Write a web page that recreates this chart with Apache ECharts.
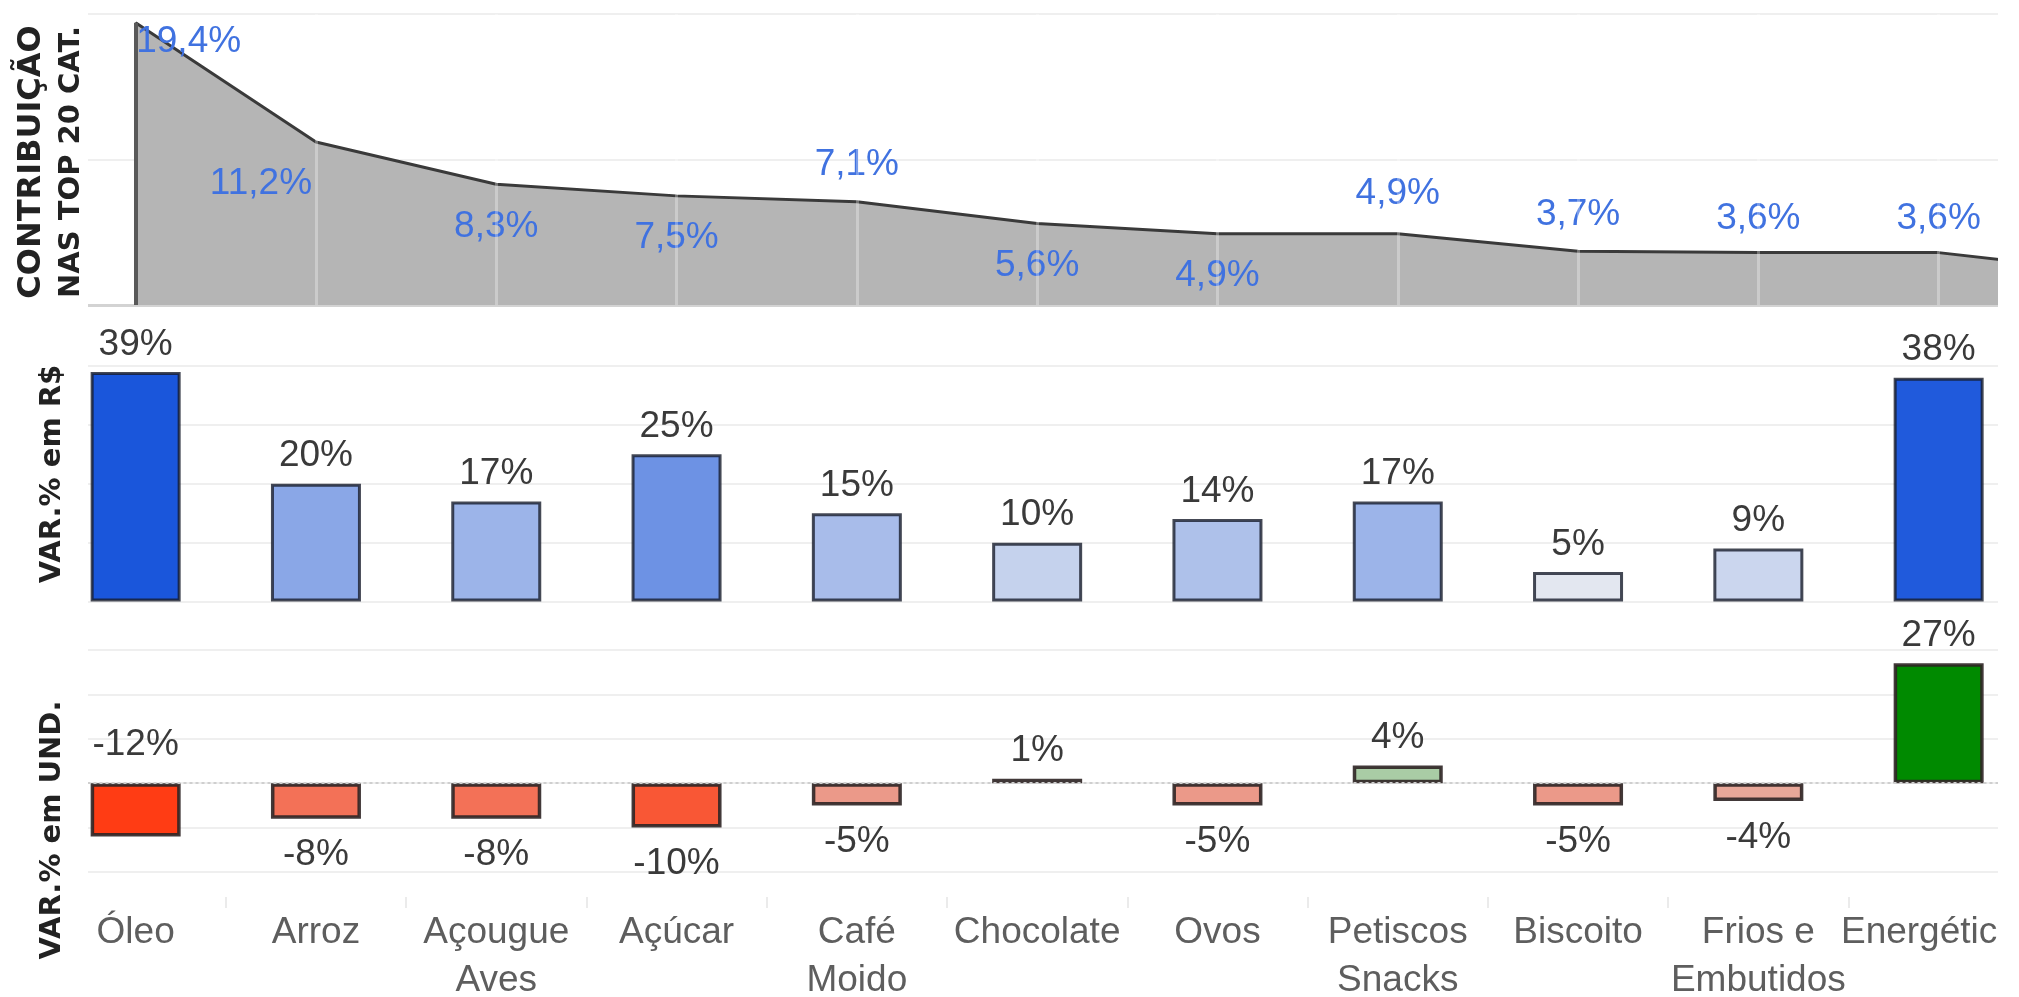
<!DOCTYPE html>
<html><head><meta charset="utf-8">
<script src="https://cdn.jsdelivr.net/npm/echarts@6/dist/echarts.min.js"></script>
<style>html,body{margin:0;padding:0;background:#fff}#c{width:2019px;height:997px}</style>
</head><body><div id="c"></div>
<script>
// ---- data ----
const categories = ['Óleo','Arroz','Açougue\nAves','Açúcar','Café\nMoido','Chocolate','Ovos','Petiscos\nSnacks','Biscoito','Frios e\nEmbutidos','Energéticos',''];
const contribution = [19.4,11.2,8.3,7.5,7.1,5.6,4.9,4.9,3.7,3.6,3.6,2.2];
const varValor = [39,20,17,25,15,10,14,17,5,9,38,null];
const varUnid = [-12,-8,-8,-10,-5,1,-5,4,-5,-4,27,null];
const contribAxis = {min:0, max:20, interval:10};
const valorAxis = {min:0, max:40, interval:10};
const unidAxis = {min:-20, max:30, interval:10};

// ---- styles ----
const areaLabelOffset = [[53,19],[-55,42],[0,43],[0,42],[0,-37],[0,42],[0,42],[0,-40],[0,-36],[0,-34],[0,-34],[0,0]];
const unidLabelSide = ['top','bottom','bottom','bottom','bottom','top','bottom','top','bottom','bottom','top'];
const blueStops = [[5,'#e3e7f0'],[39,'#1a56db']];
const divStops = [[-12,'#ff3c14'],[0,'#dcdcdc'],[4,'#a9cca5'],[27,'#008a00']];
const FONT = '"Liberation Sans", Arial, sans-serif';
const LEFT = 45.5, BAND = 180.3, WIDTH = BAND * categories.length;

function scaleColor(v, stops){
  if (v <= stops[0][0]) return stops[0][1];
  for (let k = 1; k < stops.length; k++){
    if (v <= stops[k][0]){
      const t = (v - stops[k-1][0]) / (stops[k][0] - stops[k-1][0]);
      return echarts.color.lerp(t, [stops[k-1][1], stops[k][1]]);
    }
  }
  return stops[stops.length-1][1];
}
const pct0 = v => v.toFixed(0) + '%';
const pct1 = v => v.toFixed(1).replace('.', ',') + '%';

const grids = [
  {left: LEFT, width: WIDTH, top: 14, height: 291, outerBoundsMode:'none', containLabel:false},
  {left: LEFT, width: WIDTH, top: 366, height: 235.5, outerBoundsMode:'none', containLabel:false},
  {left: LEFT, width: WIDTH, top: 650, height: 222, outerBoundsMode:'none', containLabel:false},
  {left: LEFT, width: WIDTH, top: 897, height: 11, outerBoundsMode:'none', containLabel:false}
];
const splitStyle = {show:true, lineStyle:{color:'#efefef', width:2}};
const xAxes = grids.map((g, i) => ({
  type:'category', gridIndex:i, data:categories, boundaryGap:true,
  axisLine:{show: i===0, lineStyle:{color:'#d3d3d3', width:3}},
  axisTick:{show:false},
  axisLabel: i===3 ? {show:true, interval:0, margin:1, fontFamily:FONT, fontSize:37, lineHeight:48, color:'#5e5e5e'} : {show:false},
  splitLine: i===3 ? {show:true, interval:0, lineStyle:{color:'#ebebeb', width:2}} : {show:false}
}));
const yAxes = [
  Object.assign({type:'value', gridIndex:0, axisLabel:{show:false}, axisLine:{show:false}, axisTick:{show:false}, splitLine:splitStyle}, contribAxis),
  Object.assign({type:'value', gridIndex:1, axisLabel:{show:false}, axisLine:{show:false}, axisTick:{show:false}, splitLine:splitStyle}, valorAxis),
  Object.assign({type:'value', gridIndex:2, axisLabel:{show:false}, axisLine:{show:false}, axisTick:{show:false}, splitLine:splitStyle}, unidAxis),
  {type:'value', gridIndex:3, show:false}
];

const areaData = contribution.map((v, i) => ({
  value: v,
  label: {show: i < categories.length - 1, offset: areaLabelOffset[i]}
}));
const valorData = varValor.map(v => v == null ? null : {value: v});
const unidData = varUnid.map((v, i) => v == null ? null : {
  value: v,
  label: {position: unidLabelSide[i], distance: unidLabelSide[i] === 'top' ? (v < 0 ? 20 : 9) : 18}
});

const option = {
  animation:false,
  backgroundColor:'#ffffff',
  grid: grids,
  xAxis: xAxes,
  yAxis: yAxes,
  series: [
    {
      type:'line', xAxisIndex:0, yAxisIndex:0, data: areaData,
      symbol:'circle', symbolSize:1, itemStyle:{color:'#3a3a3a'},
      lineStyle:{color:'#3a3a3a', width:3},
      areaStyle:{color:'#b5b5b5', opacity:1},
      label:{show:true, position:'inside', formatter: p => pct1(p.value), fontFamily:FONT, fontSize:37, color:'#4072e0'},
      markLine:{
        silent:true, symbol:['none','none'], label:{show:false},
        data:[
          ...[1,2,3,4,5,6,7,8,9,10].map(i => ({xAxis:i, lineStyle:{color:'rgba(255,255,255,0.3)', width:3, type:'solid'}})),
          [{coord:[0, 0], lineStyle:{color:'#595959', width:4, type:'solid'}}, {coord:[0, contribution[0]]}]
        ]
      }
    },
    {
      type:'bar', xAxisIndex:1, yAxisIndex:1, data: valorData, barWidth:90,
      itemStyle:{color: p => scaleColor(p.value, blueStops), borderColor:'rgba(22,28,42,0.8)', borderWidth:3},
      label:{show:true, position:'top', distance:9, formatter: p => pct0(p.value), fontFamily:FONT, fontSize:37, color:'#3a3a3a'}
    },
    {
      type:'bar', xAxisIndex:2, yAxisIndex:2, data: unidData, barWidth:90,
      itemStyle:{color: p => scaleColor(p.value, divStops), borderColor:'rgba(45,35,35,0.9)', borderWidth:3.5},
      label:{show:true, formatter: p => pct0(p.value), fontFamily:FONT, fontSize:37, color:'#3a3a3a'},
      markLine:{
        silent:true, symbol:['none','none'], label:{show:false},
        lineStyle:{color:'#cfcfcf', width:2, type:[3,3]},
        data:[{yAxis:0}]
      }
    }
  ],
  graphic: [
    {type:'rect', shape:{x:0, y:0, width:88, height:997}, style:{fill:'#ffffff'}, z:100},
    {type:'rect', shape:{x:1998, y:0, width:30, height:997}, style:{fill:'#ffffff'}, z:100},
    {type:'text', x:32, y:162, rotation:Math.PI/2, z:101, style:{text:'CONTRIBUIÇÃO', font:'bold 32px "DejaVu Sans"', fill:'#222', align:'center', verticalAlign:'middle', textAlign:'center', textVerticalAlign:'middle'}},
    {type:'text', x:71, y:162, rotation:Math.PI/2, z:101, style:{text:'NAS TOP 20 CAT.', font:'bold 29px "DejaVu Sans"', fill:'#222', align:'center', verticalAlign:'middle', textAlign:'center', textVerticalAlign:'middle'}},
    {type:'text', x:52, y:474, rotation:Math.PI/2, z:101, style:{text:'VAR.% em R$', font:'bold 29px "DejaVu Sans"', fill:'#222', align:'center', verticalAlign:'middle', textAlign:'center', textVerticalAlign:'middle'}},
    {type:'text', x:52, y:830, rotation:Math.PI/2, z:101, style:{text:'VAR.% em UND.', font:'bold 29px "DejaVu Sans"', fill:'#222', align:'center', verticalAlign:'middle', textAlign:'center', textVerticalAlign:'middle'}}
  ]
};
const chart = echarts.init(document.getElementById('c'), null, {renderer:'canvas'});
chart.setOption(option);
</script>
</body></html>
